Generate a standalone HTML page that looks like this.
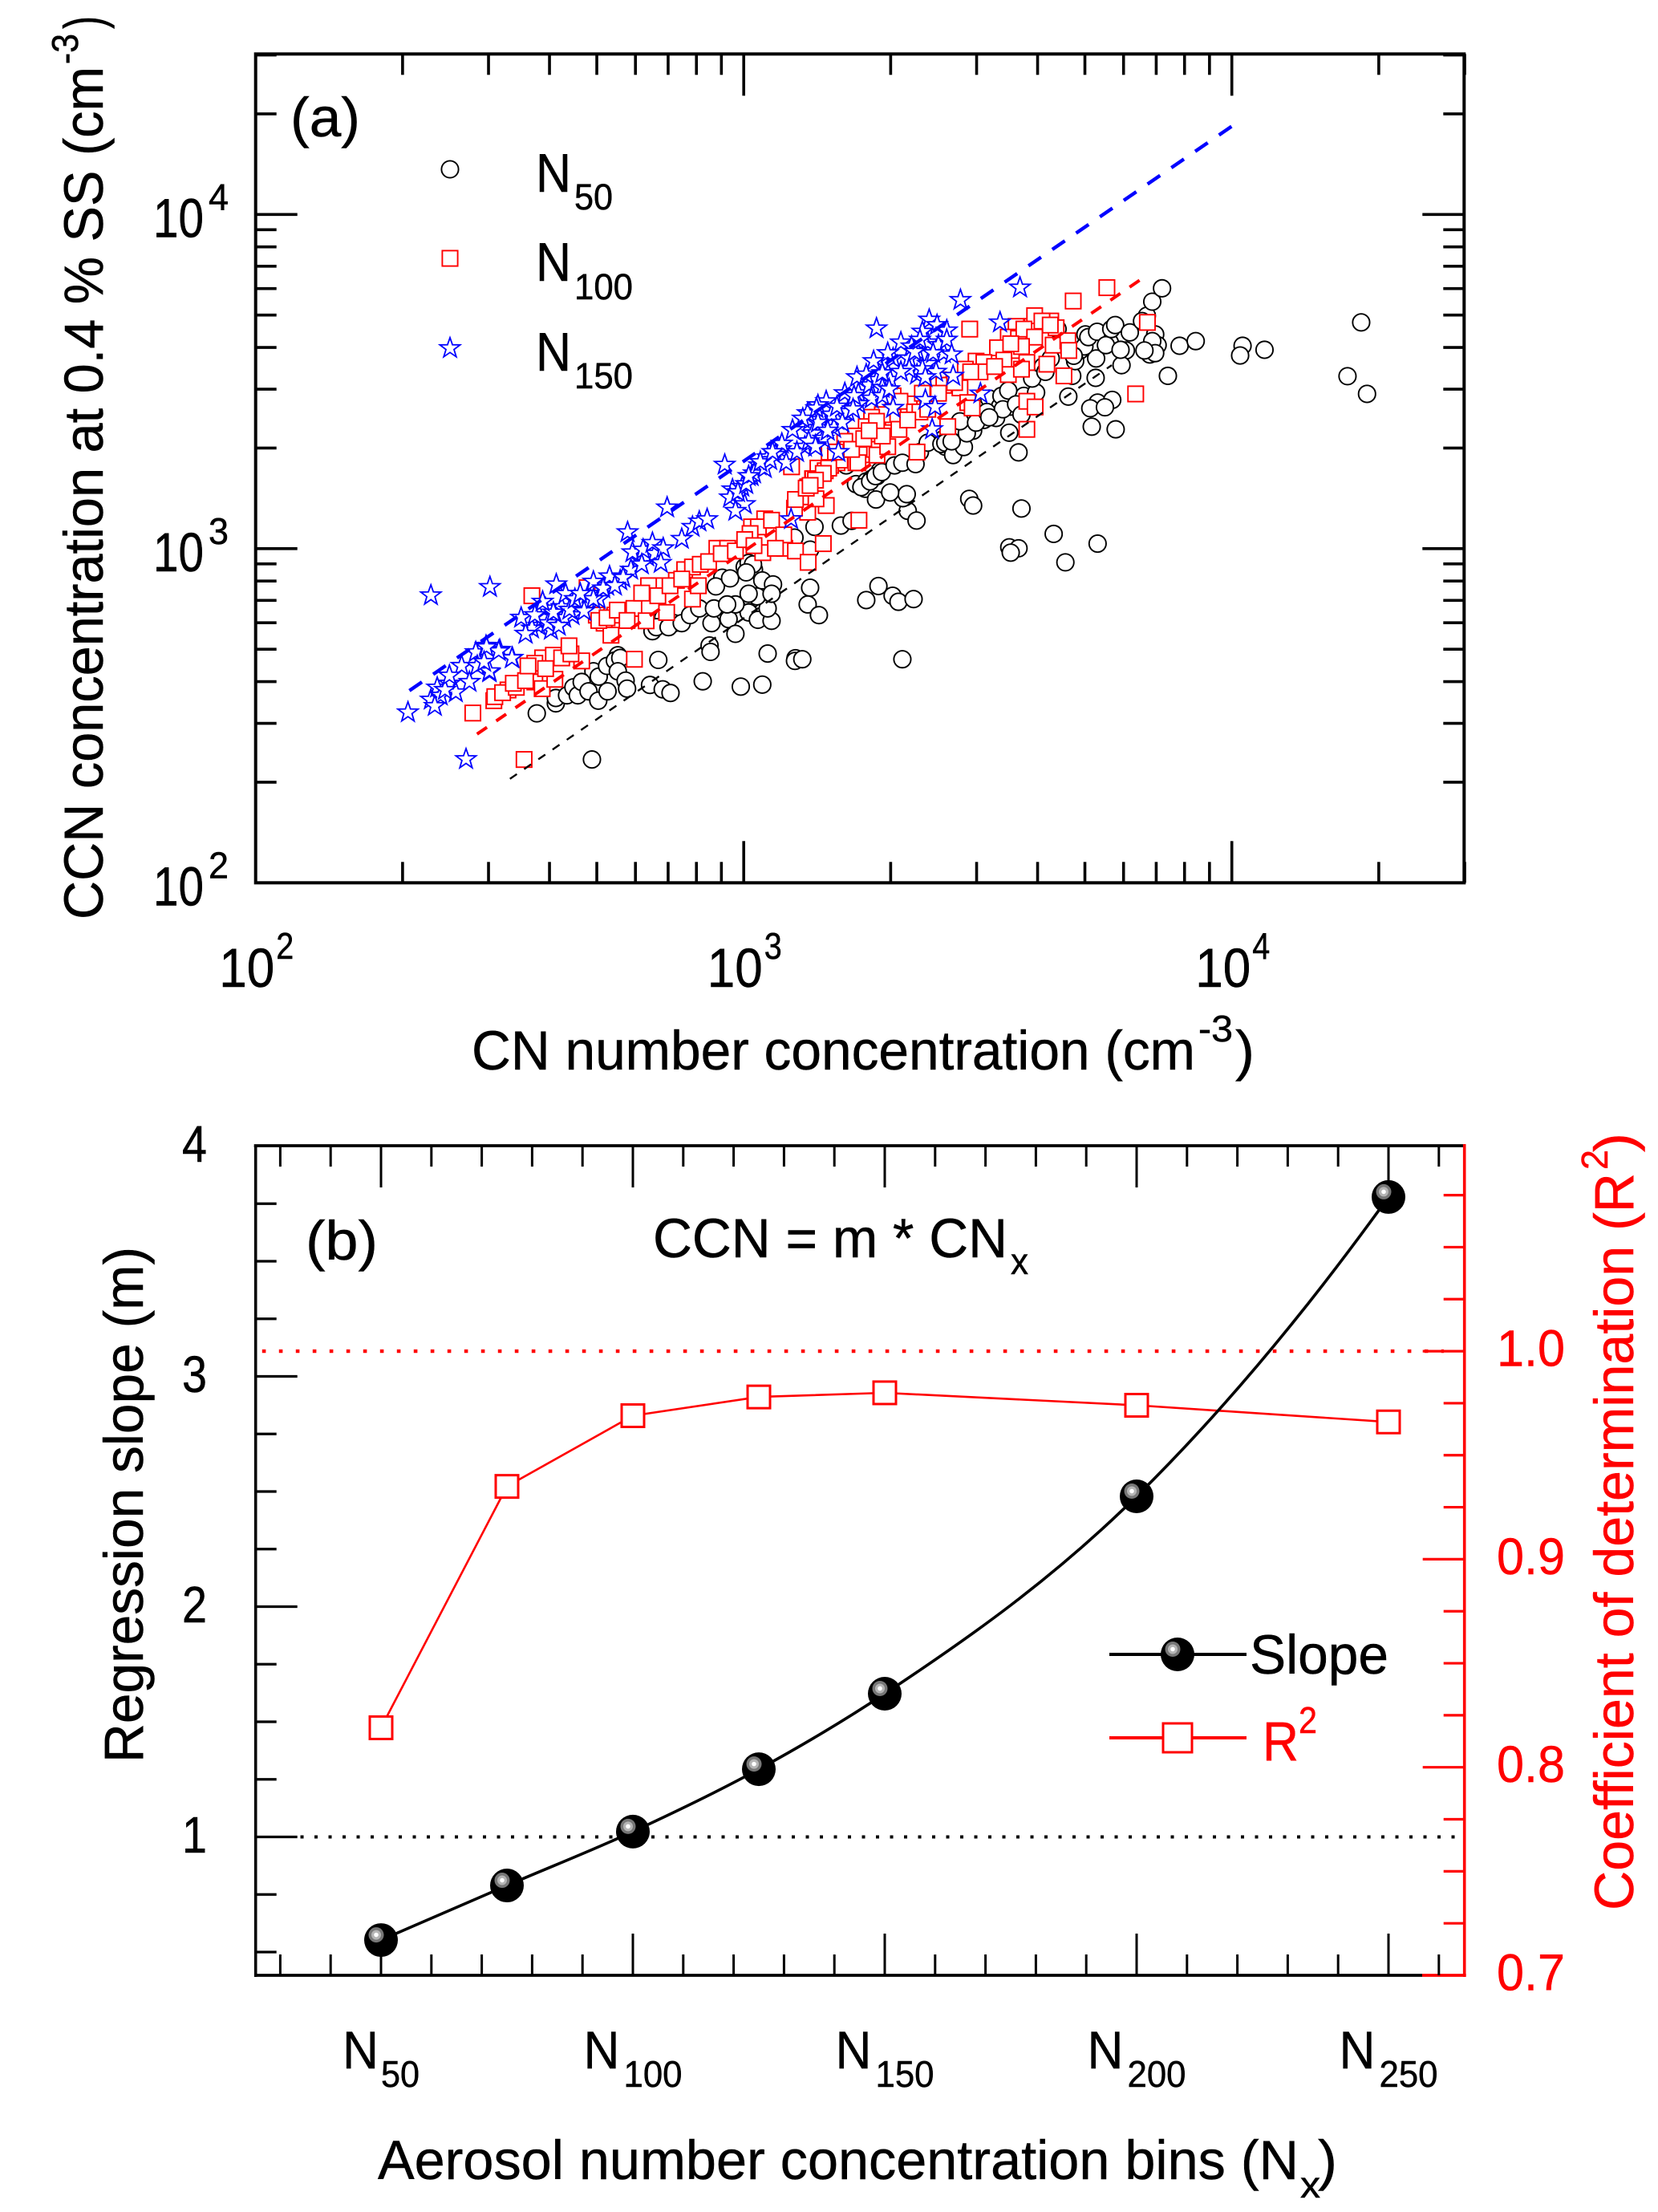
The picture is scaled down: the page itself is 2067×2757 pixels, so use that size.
<!DOCTYPE html>
<html lang="en">
<head>
<meta charset="utf-8">
<title>CCN versus CN scatter and regression slope chart</title>
<style>
html,body{margin:0;padding:0;background:#fff;}
svg{display:block;font-family:"Liberation Sans",Arial,sans-serif;}
text{stroke:#000;stroke-width:.5px;}
text[fill="#f00"],text[fill="#ff0000"],g[fill="#ff0000"] text{stroke:#f00;}
</style>
</head>
<body>
<svg id="chart" xmlns="http://www.w3.org/2000/svg" width="2067" height="2757" viewBox="0 0 2067 2757">
<rect width="2067" height="2757" fill="#ffffff"/>
<g id="panelA"></g>
<g id="panelB"></g>

<g>
<text transform="translate(128,1146) rotate(-90)" font-size="69" textLength="1063" lengthAdjust="spacingAndGlyphs">CCN concentration at 0.4 % SS (cm</text>
<text transform="translate(97,80) rotate(-90)" font-size="46" textLength="38" lengthAdjust="spacingAndGlyphs">-3</text>
<text transform="translate(128,36) rotate(-90)" font-size="69" textLength="16" lengthAdjust="spacingAndGlyphs">)</text>
</g>
<g>
<text x="588" y="1333" font-size="69" textLength="902" lengthAdjust="spacingAndGlyphs">CN number concentration (cm</text>
<text x="1494" y="1298" font-size="46" textLength="43" lengthAdjust="spacingAndGlyphs">-3</text>
<text x="1540" y="1333" font-size="69" textLength="24" lengthAdjust="spacingAndGlyphs">)</text>
</g>
<text x="362" y="170" font-size="69" textLength="87" lengthAdjust="spacingAndGlyphs">(a)</text>
<g>
<text x="668" y="239" font-size="68" textLength="44" lengthAdjust="spacingAndGlyphs">N</text>
<text x="716" y="261" font-size="45" textLength="48" lengthAdjust="spacingAndGlyphs">50</text>
<text x="668" y="350" font-size="68" textLength="44" lengthAdjust="spacingAndGlyphs">N</text>
<text x="716" y="373" font-size="45" textLength="73" lengthAdjust="spacingAndGlyphs">100</text>
<text x="668" y="462" font-size="68" textLength="44" lengthAdjust="spacingAndGlyphs">N</text>
<text x="716" y="484" font-size="45" textLength="73" lengthAdjust="spacingAndGlyphs">150</text>
</g>

<text transform="translate(178,2197) rotate(-90)" font-size="69" textLength="643" lengthAdjust="spacingAndGlyphs">Regression slope (m)</text>
<g fill="#ff0000">
<text transform="translate(2036,2381) rotate(-90)" font-size="69" textLength="919" lengthAdjust="spacingAndGlyphs">Coefficient of determination (R</text>
<text transform="translate(2004,1458) rotate(-90)" font-size="46" textLength="25" lengthAdjust="spacingAndGlyphs">2</text>
<text transform="translate(2036,1436) rotate(-90)" font-size="69" textLength="24" lengthAdjust="spacingAndGlyphs">)</text>
</g>
<g>
<text x="471" y="2716" font-size="69" textLength="1148" lengthAdjust="spacingAndGlyphs">Aerosol number concentration bins (N</text>
<text x="1621" y="2739" font-size="46" textLength="25" lengthAdjust="spacingAndGlyphs">x</text>
<text x="1643" y="2716" font-size="69" textLength="24" lengthAdjust="spacingAndGlyphs">)</text>
</g>
<text x="381" y="1570" font-size="69" textLength="90" lengthAdjust="spacingAndGlyphs">(b)</text>
<g>
<text x="814" y="1567" font-size="69" textLength="442" lengthAdjust="spacingAndGlyphs">CCN = m * CN</text>
<text x="1260" y="1588" font-size="46" textLength="22" lengthAdjust="spacingAndGlyphs">x</text>
</g>
<g>
<text x="1558" y="2086" font-size="69" textLength="173" lengthAdjust="spacingAndGlyphs">Slope</text>
<text x="1574" y="2194" font-size="69" textLength="45" lengthAdjust="spacingAndGlyphs" fill="#ff0000">R</text>
<text x="1619" y="2160" font-size="46" textLength="23" lengthAdjust="spacingAndGlyphs" fill="#ff0000">2</text>
</g>

<script>
// ---- Panel (a) data: [log10 CN, log10 CCN], in cm-3 ----
var n50Points = [
[3.503,3.449],[3.547,3.425],[3.574,3.457],[3.525,3.425],[3.492,3.385],[3.470,3.353],[3.437,3.345],[3.410,3.329],[3.413,3.305],[3.421,3.321],[3.361,3.289],[3.613,3.545],[3.629,3.569],[3.689,3.593],[3.700,3.641],[3.783,3.593],[3.750,3.617],[3.843,3.641],[3.848,3.609],[3.826,3.697],[2.824,2.769],[2.857,2.777],[2.813,2.753],[3.002,2.945],[3.010,2.957],[3.021,2.937],[2.956,2.913],[3.016,2.849],[3.230,3.193],[3.251,3.201],[3.273,3.217],[2.742,2.681],[2.692,2.633],
[2.689,2.369],[2.576,2.507],[2.615,2.537],[2.615,2.553],[2.638,2.561],[2.651,2.585],[2.660,2.561],[2.668,2.601],[2.682,2.573],[2.702,2.545],[2.721,2.573],[2.703,2.617],[2.720,2.649],[2.736,2.665],[2.747,2.673],[2.742,2.633],[2.758,2.605],[2.761,2.581],[2.808,2.592],[2.834,2.579],[2.850,2.568],[2.825,2.667],[2.916,2.603],[2.994,2.587],[3.038,2.593],[3.049,2.686],[3.106,2.672],[3.105,2.664],[2.930,2.710],[2.932,2.691],[3.136,2.883],[3.131,2.833],[3.154,2.801],[3.251,2.846],[3.276,2.888],[2.835,2.793],[2.821,2.765],[2.846,2.765],[2.873,2.777],[2.890,2.801],[2.909,2.821],[2.934,2.777],[2.939,2.821],[2.969,2.789],[2.983,2.745],[3.010,2.809],[3.029,2.787],[3.057,2.784],[3.049,2.821],[3.027,2.857],[3.010,2.865],[2.983,2.833],[2.966,2.833],[2.943,2.887],[2.972,2.911],[3.019,2.953],[3.005,2.929],[3.038,2.905],[3.060,2.893],[3.057,2.865],[3.145,3.065],[3.199,3.069],[3.221,3.083],[3.136,2.997],[3.104,3.033],[3.249,3.179],[3.271,3.147],[3.262,3.209],[3.279,3.233],
[3.325,2.669],[3.120,2.669],[3.305,2.859],[3.317,2.841],[3.348,2.849],[3.336,3.113],[3.354,3.084],[3.326,3.151],[3.334,3.163],[3.300,3.168],[3.241,3.184],[3.259,3.201],[3.270,3.217],[3.283,3.229],[3.309,3.249],[3.325,3.257],[3.352,3.253],[3.210,3.249],[3.377,3.317],[3.405,3.313],[3.413,3.317],[3.429,3.280],[3.451,3.304],[3.457,3.345],[3.443,3.381],[3.476,3.377],[3.498,3.409],[3.517,3.391],[3.544,3.347],[3.563,3.288],[3.528,3.457],[3.542,3.473],[3.531,3.417],[3.558,3.432],[3.599,3.467],[3.591,3.509],[3.618,3.529],[3.673,3.517],[3.679,3.561],[3.665,3.455],[3.721,3.511],[3.774,3.549],[3.722,3.569],[3.698,3.605],[3.706,3.633],[3.724,3.649],[3.742,3.609],[3.753,3.657],[3.761,3.669],[3.772,3.595],[3.791,3.647],[3.816,3.681],[3.837,3.739],[3.857,3.779],[3.837,3.621],[3.832,3.581],[3.843,3.585],[3.893,3.607],[3.926,3.621],[3.869,3.517],[3.725,3.437],[3.755,3.445],[3.710,3.420],[3.740,3.423],[3.713,3.365],[3.762,3.357],[3.462,3.149],[3.470,3.129],[3.569,3.120],[3.635,3.044],[3.544,3.004],[3.563,3.001],[3.547,2.988],[3.659,2.959],[3.725,3.015],[3.643,3.657],[3.676,3.577],[3.426,3.321],[3.503,3.393],[3.569,3.401],[3.821,3.593],
[4.022,3.607],[4.017,3.578],[4.067,3.595],[4.265,3.677],[4.237,3.516],[4.277,3.463]
];
var n100Points = [
[3.558,3.665],[3.591,3.665],[3.596,3.697],[3.629,3.681],[3.640,3.661],[3.542,3.633],[3.520,3.601],[3.553,3.593],[3.563,3.629],[3.476,3.561],[3.454,3.537],[3.399,3.505],[3.426,3.489],[3.339,3.433],[3.333,3.409],[3.306,3.393],[3.306,3.457],[3.284,3.401],[3.262,3.393],[3.251,3.365],[3.229,3.337],[3.207,3.321],[3.207,3.265],[3.191,3.257],[3.152,3.241],[3.131,3.185],[3.141,3.209],[2.517,2.577],[2.572,2.601],[2.588,2.673],[2.610,2.681],[2.572,2.657],[2.736,2.801],[2.714,2.777],[2.698,2.801],[2.824,2.889],[2.805,2.889],[2.862,2.905],[2.879,2.937],[2.895,2.945],[2.945,3.001],[2.967,3.001],[3.043,3.089],[3.016,3.065],
[2.550,2.369],[2.445,2.508],[2.488,2.545],[2.490,2.557],[2.506,2.569],[2.534,2.585],[2.528,2.597],[2.553,2.605],[2.587,2.581],[2.613,2.609],[2.558,2.649],[2.594,2.641],[2.627,2.673],[2.668,2.664],[2.646,2.685],[2.642,2.709],[2.566,2.859],[2.679,2.883],[2.776,2.669],[2.728,2.741],[2.703,2.785],[2.720,2.793],[2.741,2.816],[2.775,2.821],[2.761,2.785],[2.800,2.784],[2.791,2.867],[2.824,2.859],[2.842,2.809],[2.849,2.889],[2.873,2.909],[2.895,2.849],[2.907,2.889],[2.911,2.953],[2.928,2.961],[2.954,2.985],[2.983,2.993],[3.039,2.988],[3.084,3.001],[3.106,2.993],[3.163,3.015],[3.132,2.959],[3.236,3.085],[3.131,3.109],[3.104,3.121],[3.169,3.129],[3.106,3.147],[3.148,3.149],[3.128,3.181],[3.142,3.209],[3.167,3.233],[3.178,3.249],[3.098,3.245],[3.197,3.265],[3.230,3.257],[3.241,3.281],[3.175,3.289],[3.268,3.297],[3.213,3.297],[3.030,3.065],[3.057,3.085],[3.013,3.045],[3.002,3.027],[3.082,3.041],[3.065,3.001],[3.021,3.009],
[3.744,3.781],[3.675,3.741],[3.827,3.677],[3.803,3.463],[3.463,3.657],[3.611,3.681],[3.628,3.669],[3.574,3.657],[3.596,3.633],[3.569,3.605],[3.547,3.613],[3.533,3.564],[3.492,3.557],[3.484,3.529],[3.465,3.529],[3.443,3.481],[3.418,3.365],[3.459,3.437],[3.468,3.421],[3.580,3.557],[3.621,3.552],[3.656,3.517],[3.634,3.609],[3.664,3.622],[3.666,3.593],[3.580,3.441],[3.597,3.424],[3.580,3.357],[3.366,3.465],[3.410,3.489],[3.399,3.465],[3.320,3.441],[3.350,3.409],[3.361,3.409],[3.355,3.289],[3.272,3.381],[3.318,3.357],[3.273,3.280],[3.234,3.257],[3.221,3.297],[3.188,3.289],[3.246,3.329],[3.295,3.305],[3.174,3.241],[3.163,3.225],[3.147,3.205],[3.136,3.189],[3.542,3.521],[3.514,3.545],[3.569,3.537],[3.284,3.337],[3.257,3.353],[3.336,3.385],[3.377,3.417],[3.432,3.497]
];
var n150Points = [
[2.580,2.769],[2.605,2.757],[2.616,2.793],[2.627,2.825],[2.566,2.761],[2.588,2.793],[2.649,2.801],[2.682,2.865],[2.703,2.849],[2.720,2.889],[2.747,2.905],[2.769,2.937],[2.786,2.969],[2.802,2.977],[2.818,2.985],[2.977,3.177],[2.997,3.185],[3.016,3.217],[3.032,3.249],[3.049,3.273],[3.076,3.297],[3.125,3.305],
[3.136,3.385],[3.158,3.401],[3.191,3.385],[3.213,3.409],[3.141,3.345],[3.163,3.329],[3.185,3.361],[3.235,3.465],[3.257,3.489],[3.273,3.505],[3.289,3.553],[3.306,3.569],[3.339,3.569],[3.355,3.593],[3.377,3.617],[3.399,3.609],[3.410,3.585],[3.377,3.553],[3.394,3.529],[3.355,3.521],[3.339,3.537],[3.300,3.505],[3.262,3.449],[3.284,3.481],[3.235,3.433],
[2.312,2.510],[2.359,2.860],[2.431,2.370],[2.359,2.548],[2.372,2.584],[2.397,2.596],[2.438,2.601],[2.422,2.649],[2.451,2.690],[2.472,2.709],[2.500,2.697],[2.526,2.673],[2.479,2.630],[2.454,2.649],[2.410,2.570],[2.379,2.560],[2.388,2.577],[2.367,2.529],[2.397,2.620],
[2.480,2.885],[2.762,3.049],[2.843,3.123],[2.961,3.251],[2.616,2.893],[2.635,2.865],[2.553,2.745],[2.544,2.793],[2.594,2.821],[2.599,2.777],[2.632,2.793],[2.643,2.817],[2.621,2.769],[2.654,2.849],[2.673,2.813],[2.692,2.901],[2.692,2.849],[2.725,2.917],[2.712,2.881],[2.772,2.989],[2.794,2.997],[2.813,3.017],[2.835,3.001],[2.830,2.957],[2.791,2.953],[2.753,2.913],[2.873,3.029],[2.895,3.065],[2.909,3.081],[2.925,3.088],[2.972,3.153],[3.002,3.133],[2.983,3.113],[2.988,3.169],[3.005,3.193],[3.021,3.225],[3.043,3.241],[3.065,3.281],[3.087,3.257],[3.109,3.289],[3.147,3.309],[3.194,3.289],[3.097,3.088],[2.525,2.672],[2.498,2.693],[2.473,2.705],[2.479,2.633],[2.468,2.661],[2.572,2.801],[2.610,2.809],[2.588,2.841],[2.665,2.865],[2.736,2.889],[3.010,3.217],[3.054,3.265],
[3.272,3.659],[3.444,3.744],[3.566,3.781],[3.525,3.677],[3.380,3.685],[3.396,3.669],[3.416,3.653],[3.366,3.649],[3.416,3.625],[3.322,3.617],[3.344,3.605],[3.426,3.581],[3.388,3.585],[3.295,3.585],[3.266,3.561],[3.284,3.525],[3.322,3.529],[3.366,3.537],[3.372,3.513],[3.429,3.517],[3.232,3.513],[3.251,3.521],[3.207,3.465],[3.226,3.457],[3.284,3.457],[3.306,3.421],[3.372,3.445],[3.392,3.424],[3.386,3.357],[3.485,3.464],[3.169,3.441],[3.152,3.429],[3.180,3.401],[3.202,3.377],[3.152,3.377],[3.131,3.405],[3.133,3.321],[3.147,3.305],[3.172,3.353],[3.191,3.425],[3.224,3.417],[3.298,3.477],[3.350,3.589],[3.361,3.625],[3.078,3.314],[3.034,3.259],[3.121,3.389],[3.149,3.420],[3.100,3.355],[3.059,3.289]
];
// Regression fit end points: [log10 CN, log10 CCN]
var fitN50 = [[2.521,2.311],[3.754,3.549]];
var fitN100 = [[2.4536,2.445],[3.819,3.811]];
var fitN150 = [[2.315,2.575],[4.015,4.279]];
var logTickDecades = [100,1000,10000];
var logTickMultipliers = [1,2,3,4,5,6,7,8,9];
var xExponents = ['2','3','4'];
var yExponents = ['2','3','4'];

// ---- Panel (b) data ----
var binSizes = [50,75,100,125,150,200,250];
var slopeValues = [0.552,0.789,1.023,1.294,1.622,2.479,3.779];
var r2Values = [0.819,0.935,0.969,0.978,0.980,0.974,0.966];
var binLabelValues = [50,100,150,200,250];
var binLabelTexts = ['50','100','150','200','250'];
var slopeTickLabels = ['1','2','3','4'];
var slopeTickValues = [1,2,3,4];
var r2TickLabels = ['0.7','0.8','0.9','1.0'];
var r2TickValues = [0.7,0.8,0.9,1.0];

var NS = 'http://www.w3.org/2000/svg';
var panelA = document.getElementById('panelA');
var panelB = document.getElementById('panelB');

function make(parent, tag, attrs){
  var el = document.createElementNS(NS, tag);
  for (var k in attrs){ el.setAttribute(k, attrs[k]); }
  parent.appendChild(el);
  return el;
}
function drawLine(parent, x1, y1, x2, y2, color, width){
  return make(parent, 'line', {x1:x1, y1:y1, x2:x2, y2:y2, stroke:color, 'stroke-width':width});
}
function drawText(parent, str, x, y, size, len, color){
  var el = make(parent, 'text', {x:x, y:y, 'font-size':size, fill:color, textLength:len, lengthAdjust:'spacingAndGlyphs'});
  el.textContent = str;
  return el;
}
function starPoints(cx, cy, R){
  var pts = [];
  for (var i = 0; i < 10; i++){
    var r = i % 2 === 0 ? R : R * 0.4;
    var a = -Math.PI / 2 + i * Math.PI / 5;
    pts.push((cx + r * Math.cos(a)).toFixed(1) + ',' + (cy + r * Math.sin(a)).toFixed(1));
  }
  return pts.join(' ');
}
function circleMark(parent, cx, cy){
  return make(parent, 'circle', {cx:cx, cy:cy, r:10.6, fill:'#fff', stroke:'#000', 'stroke-width':1.9});
}
function squareMark(parent, cx, cy){
  return make(parent, 'rect', {x:cx-9.6, y:cy-9.6, width:19.2, height:19.2, fill:'#fff', stroke:'#f00', 'stroke-width':1.9});
}
function starMark(parent, cx, cy){
  return make(parent, 'polygon', {points:starPoints(cx, cy, 13.2), fill:'#fff', stroke:'#00f', 'stroke-width':1.8});
}

// ---- Panel (a) axes ----
var aLeft = 318.7, aRight = 1825.3, aTop = 67.3, aBottom = 1100.3;
function xLog(v){ return aLeft + 608.5 * (v - 2); }
function yLog(v){ return aBottom - 416.5 * (v - 2); }

var markA = make(panelA, 'g', {});


n50Points.forEach(function(p){
  var m = circleMark(markA, xLog(p[0]), yLog(p[1]));
  
  
});
n100Points.forEach(function(p){
  var m = squareMark(markA, xLog(p[0]), yLog(p[1]));
  
  
});
n150Points.forEach(function(p){
  var m = starMark(markA, xLog(p[0]), yLog(p[1]));
  
  
});

var fit50 = drawLine(panelA, xLog(fitN50[0][0]), yLog(fitN50[0][1]), xLog(fitN50[1][0]), yLog(fitN50[1][1]), '#000', 2.4);
fit50.setAttribute('stroke-dasharray', '10.5 11');


var fit100 = drawLine(panelA, xLog(fitN100[0][0]), yLog(fitN100[0][1]), xLog(fitN100[1][0]), yLog(fitN100[1][1]), '#f00', 4);
fit100.setAttribute('stroke-dasharray', '15 14');


var fit150 = drawLine(panelA, xLog(fitN150[0][0]), yLog(fitN150[0][1]), xLog(fitN150[1][0]), yLog(fitN150[1][1]), '#00f', 4.4);
fit150.setAttribute('stroke-dasharray', '19 17');



var frameA = make(panelA, 'rect', {x:aLeft, y:aTop, width:aRight-aLeft, height:aBottom-aTop, fill:'none', stroke:'#000', 'stroke-width':4});



logTickDecades.forEach(function(dec){
  logTickMultipliers.forEach(function(mul){
    var val = dec * mul;
    var lg = Math.log10(val);
    var len = mul === 1 ? 52 : 26;
    if (lg > 2 && val <= 30000){
      var px = xLog(lg);
      var t1 = drawLine(panelA, px, aBottom, px, aBottom - len, '#000', 3.6);
      
      
      var t2 = drawLine(panelA, px, aTop, px, aTop + len, '#000', 3.6);
      
      
    }
    if (lg > 2 && val <= 30000){
      var py = yLog(lg);
      var t3 = drawLine(panelA, aLeft, py, aLeft + len, py, '#000', 3.6);
      
      
      var t4 = drawLine(panelA, aRight, py, aRight - len, py, '#000', 3.6);
      
      
    }
  });
});

xExponents.forEach(function(e){
  var px = xLog(Number(e));
  var base = drawText(panelA, '10', px - 45.5, 1230, 69, 69, '#000');
  
  
  var sup = drawText(panelA, e, px + 25.5, 1195, 46, 22, '#000');
  
  
});
yExponents.forEach(function(e){
  var py = yLog(Number(e));
  var base = drawText(panelA, '10', 191, py + 28, 69, 63, '#000');
  
  
  var sup = drawText(panelA, e, 260, py - 6, 46, 25, '#000');
  
  
});

var legC = circleMark(panelA, 561, 211);


var legS = squareMark(panelA, 561, 322);


var legT = starMark(panelA, 561, 434);



// ---- Panel (b) axes ----
var bLeft = 318.7, bRight = 1825.7, bTop = 1428, bBottom = 2462;
function xBin(v){ return 475 + (v - 50) * 6.28; }
function ySlope(v){ return 2002.5 - (v - 2) * 287; }
function yR2(v){ return bBottom - (v - 0.7) * 2593; }

var refR2 = drawLine(panelB, xBin(26.4), yR2(1), xBin(261), yR2(1), '#f00', 4.4);
refR2.setAttribute('stroke-dasharray', '4.6 16.4');


var refSlope = drawLine(panelB, xBin(34), ySlope(1), xBin(265), ySlope(1), '#000', 4);
refSlope.setAttribute('stroke-dasharray', '4 13.5');



var axisTop = drawLine(panelB, bLeft - 2, bTop, bRight, bTop, '#000', 3.8);


var axisLeft = drawLine(panelB, bLeft, bTop, bLeft, bBottom + 2, '#000', 3.6);


var axisBottom = drawLine(panelB, bLeft, bBottom, 1773, bBottom, '#000', 3.8);


var axisBottomRed = drawLine(panelB, 1773, bBottom, bRight + 2, bBottom, '#f00', 3.8);



for (var xv = 30; xv <= 260; xv += 10){
  var xLen = (xv % 50 === 0) ? 52 : 26;
  var xp = xBin(xv);
  var tb = drawLine(panelB, xp, bBottom, xp, bBottom - xLen, '#000', 3);
  
  
  var tt = drawLine(panelB, xp, bTop, xp, bTop + xLen, '#000', 3);
  
  
}
for (var sv = 0.5; sv < 4; sv += 0.25){
  var sLen = (sv % 1 === 0) ? 52 : 26;
  var st = drawLine(panelB, bLeft, ySlope(sv), bLeft + sLen, ySlope(sv), '#000', 3.2);
  
  
}
for (var ri = 1; ri <= 15; ri++){
  var rv = 0.7 + ri * 0.025;
  var rLen = (ri % 4 === 0) ? 52 : 26;
  var rt = drawLine(panelB, bRight, yR2(rv), bRight - rLen, yR2(rv), '#f00', 3.2);
  
  
}
var axisRight = drawLine(panelB, bRight, bTop - 2, bRight, bBottom + 2, '#f00', 3.6);



slopeTickLabels.forEach(function(lab, i){
  var t = drawText(panelB, lab, 227, ySlope(slopeTickValues[i]) + 19.5, 64, 31, '#000');
  
  
});
r2TickLabels.forEach(function(lab, i){
  var t = drawText(panelB, lab, 1866, yR2(r2TickValues[i]) + 18.5, 64, 85, '#f00');
  
  
});
binLabelTexts.forEach(function(lab, i){
  var px = xBin(binLabelValues[i]);
  var wide = lab.length === 3;
  var n = drawText(panelB, 'N', px + (wide ? -61.5 : -48), 2578, 66, 45, '#000');
  
  
  var s = drawText(panelB, lab, px + (wide ? -11.5 : 0), 2601, 46, wide ? 73 : 48, '#000');
  
  
});

// R2 series
var r2Pts = binSizes.map(function(b, i){ return xBin(b).toFixed(1) + ',' + yR2(r2Values[i]).toFixed(1); }).join(' ');
var r2Line = make(panelB, 'polyline', {points:r2Pts, fill:'none', stroke:'#f00', 'stroke-width':2.6});


function r2Square(cx, cy, size, parent){
  return make(parent, 'rect', {x:cx-size/2, y:cy-size/2, width:size, height:size, fill:'#fff', stroke:'#f00', 'stroke-width':3});
}
binSizes.forEach(function(b, i){
  var m = r2Square(xBin(b), yR2(r2Values[i]), 28, panelB);
  
  
});

// Slope series: smooth curve through the values, tangents account for uneven bin spacing
var sx = binSizes.map(xBin);
var sy = slopeValues.map(ySlope);
var last = sx.length - 1;
var tangents = sx.map(function(_, i){
  if (i === 0 || i === last) return 0;
  var h0 = sx[i] - sx[i-1], h1 = sx[i+1] - sx[i];
  var d0 = (sy[i] - sy[i-1]) / h0, d1 = (sy[i+1] - sy[i]) / h1;
  return (h1 * d0 + h0 * d1) / (h0 + h1);
});
tangents[0] = 2 * (sy[1] - sy[0]) / (sx[1] - sx[0]) - tangents[1];
tangents[last] = 2 * (sy[last] - sy[last-1]) / (sx[last] - sx[last-1]) - tangents[last-1];
var slopeD = 'M' + sx[0].toFixed(1) + ' ' + sy[0].toFixed(1);
for (var i = 0; i < last; i++){
  var h = (sx[i+1] - sx[i]) / 3;
  slopeD += ' C' + (sx[i] + h).toFixed(1) + ' ' + (sy[i] + tangents[i] * h).toFixed(1) + ' ' + (sx[i+1] - h).toFixed(1) + ' ' + (sy[i+1] - tangents[i+1] * h).toFixed(1) + ' ' + sx[i+1].toFixed(1) + ' ' + sy[i+1].toFixed(1);
}
var slopeLine = make(panelB, 'path', {d:slopeD, fill:'none', stroke:'#000', 'stroke-width':3.6});



function sphere(parent, cx, cy){
  var g = make(parent, 'g', {});
  make(g, 'circle', {cx:cx, cy:cy, r:21, fill:'#000'});
  make(g, 'circle', {cx:cx-6, cy:cy-6.5, r:9.5, fill:'#777'});
  make(g, 'circle', {cx:cx-6, cy:cy-6.5, r:6, fill:'#b5b5b5'});
  make(g, 'circle', {cx:cx-6, cy:cy-6.5, r:2.8, fill:'#fff'});
  return g;
}
binSizes.forEach(function(b, i){
  var m = sphere(panelB, xBin(b), ySlope(slopeValues[i]));
  
  
});

// Panel (b) legend
var legSlopeLine = drawLine(panelB, 1383, 2062, 1554, 2062, '#000', 4);


var legSlopeMark = sphere(panelB, 1468, 2062);


var legR2Line = drawLine(panelB, 1383, 2166, 1554, 2166, '#f00', 4);


var legR2Mark = r2Square(1468, 2166, 36, panelB);


</script>
</svg>
</body>
</html>
